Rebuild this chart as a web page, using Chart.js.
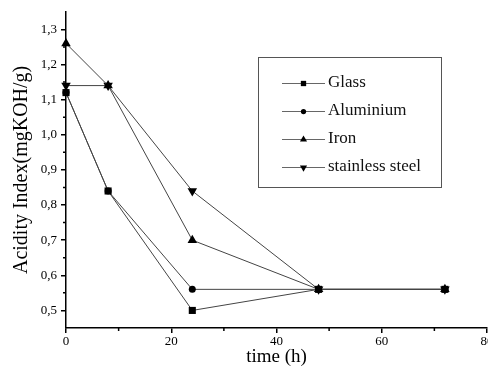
<!DOCTYPE html>
<html>
<head>
<meta charset="utf-8">
<script src="https://cdn.jsdelivr.net/npm/chart.js@4/dist/chart.umd.min.js"></script>
<style>
  body { margin: 0; background: #fff; }
  #wrap { width: 488px; height: 369px; overflow: hidden; }
</style>
</head>
<body>
<div id="wrap"><canvas id="chart" width="500" height="369"></canvas></div>
<script>
// data
const times = [0, 8, 24, 48, 72];
const glass = [1.12, 0.84, 0.50, 0.56, 0.56];
const aluminium = [1.12, 0.84, 0.56, 0.56, 0.56];
const iron = [1.26, 1.14, 0.70, 0.56, 0.56];
const stainless = [1.14, 1.14, 0.84, 0.56, 0.56];
const seriesNames = ['Glass', 'Aluminium', 'Iron', 'stainless steel'];
const xTicks = [0, 20, 40, 60, 80];
const xMinor = [10, 30, 50, 70];
const yTicks = [0.5, 0.6, 0.7, 0.8, 0.9, 1.0, 1.1, 1.2, 1.3];
const yMinor = [0.55, 0.65, 0.75, 0.85, 0.95, 1.05, 1.15, 1.25];

const serif = 'Liberation Serif, Times New Roman, serif';

function pts(vals) {
    return times.map((t, i) => ({ x: t, y: vals[i] }));
}

function makeSet(label, vals, style, radius, rotation) {
    return {
        label: label,
        data: pts(vals),
        borderColor: '#444',
        borderWidth: 1,
        backgroundColor: '#000',
        pointBackgroundColor: '#000',
        pointBorderColor: '#000',
        pointBorderWidth: 0,
        pointStyle: style,
        pointRadius: radius,
        pointRotation: rotation || 0,
        clip: false
    };
}

// minor ticks and the boxed legend
const extras = {
    id: 'extras',
    afterDraw(chart) {
        const ctx = chart.ctx;
        const xs = chart.scales.x, ys = chart.scales.y;
        ctx.save();
        ctx.strokeStyle = '#000';
        ctx.lineWidth = 1.5;
        ctx.beginPath();
        yMinor.forEach(v => {
            const y = ys.getPixelForValue(v);
            ctx.moveTo(xs.left - 3, y);
            ctx.lineTo(xs.left, y);
        });
        xMinor.forEach(v => {
            const x = xs.getPixelForValue(v);
            ctx.moveTo(x, ys.bottom);
            ctx.lineTo(x, ys.bottom + 3);
        });
        ctx.stroke();

        // legend
        const bx = 258.5, by = 57.5, bw = 183, bh = 130;
        ctx.strokeStyle = '#555';
        ctx.lineWidth = 1;
        ctx.strokeRect(bx, by, bw, bh);
        const rows = [83, 111, 139, 167];
        ctx.font = '17px ' + serif;
        ctx.textBaseline = 'middle';
        ctx.textAlign = 'left';
        chart.data.datasets.forEach((ds, i) => {
            const y = rows[i];
            ctx.strokeStyle = '#666';
            ctx.lineWidth = 1;
            ctx.beginPath();
            ctx.moveTo(282, y + 0.5);
            ctx.lineTo(325, y + 0.5);
            ctx.stroke();
            ctx.fillStyle = '#000';
            Chart.helpers.drawPoint(ctx, {
                pointStyle: ds.pointStyle,
                rotation: ds.pointRotation,
                radius: ds.pointRadius * 0.75,
                borderWidth: 0
            }, 303.5, y + 0.5);
            ctx.fillStyle = '#111';
            ctx.fillText(ds.label, 328, y);
        });
        ctx.restore();
    }
};

new Chart(document.getElementById('chart').getContext('2d'), {
    type: 'line',
    data: {
        datasets: [
            makeSet(seriesNames[0], glass, 'rect', 5),
            makeSet(seriesNames[1], aluminium, 'circle', 3.5),
            makeSet(seriesNames[2], iron, 'triangle', 5.5),
            makeSet(seriesNames[3], stainless, 'triangle', 5.5, 180)
        ]
    },
    options: {
        responsive: false,
        devicePixelRatio: 1,
        animation: false,
        layout: { autoPadding: false, padding: { top: 8, right: 13, bottom: 0, left: 0 } },
        plugins: { legend: { display: false }, tooltip: { enabled: false } },
        scales: {
            x: {
                type: 'linear',
                min: 0,
                max: 80,
                afterBuildTicks: s => { s.ticks = xTicks.map(v => ({ value: v })); },
                afterFit: s => { s.height = 41; },
                grid: { drawOnChartArea: false, drawTicks: true, tickLength: 5, color: '#000', lineWidth: 1.5 },
                border: { display: true, color: '#000', width: 1.5 },
                ticks: { color: '#000', padding: 1, maxRotation: 0, font: { family: serif, size: 13 } },
                title: { display: true, text: 'time (h)', color: '#000', padding: 1, font: { family: serif, size: 19 } }
            },
            y: {
                min: 0.45,
                max: 1.35,
                afterBuildTicks: s => { s.ticks = yTicks.map(v => ({ value: v })); },
                afterFit: s => { s.width = 66; },
                grid: { drawOnChartArea: false, drawTicks: true, tickLength: 5, color: '#000', lineWidth: 1.5 },
                border: { display: true, color: '#000', width: 1.5 },
                ticks: {
                    color: '#000',
                    padding: 4,
                    font: { family: serif, size: 13 },
                    callback: v => v.toFixed(1).replace('.', ',')
                },
                title: { display: true, text: 'Acidity Index(mgKOH/g)', color: '#000', padding: 10, font: { family: serif, size: 20 } }
            }
        }
    },
    plugins: [extras]
});
</script>
</body>
</html>
